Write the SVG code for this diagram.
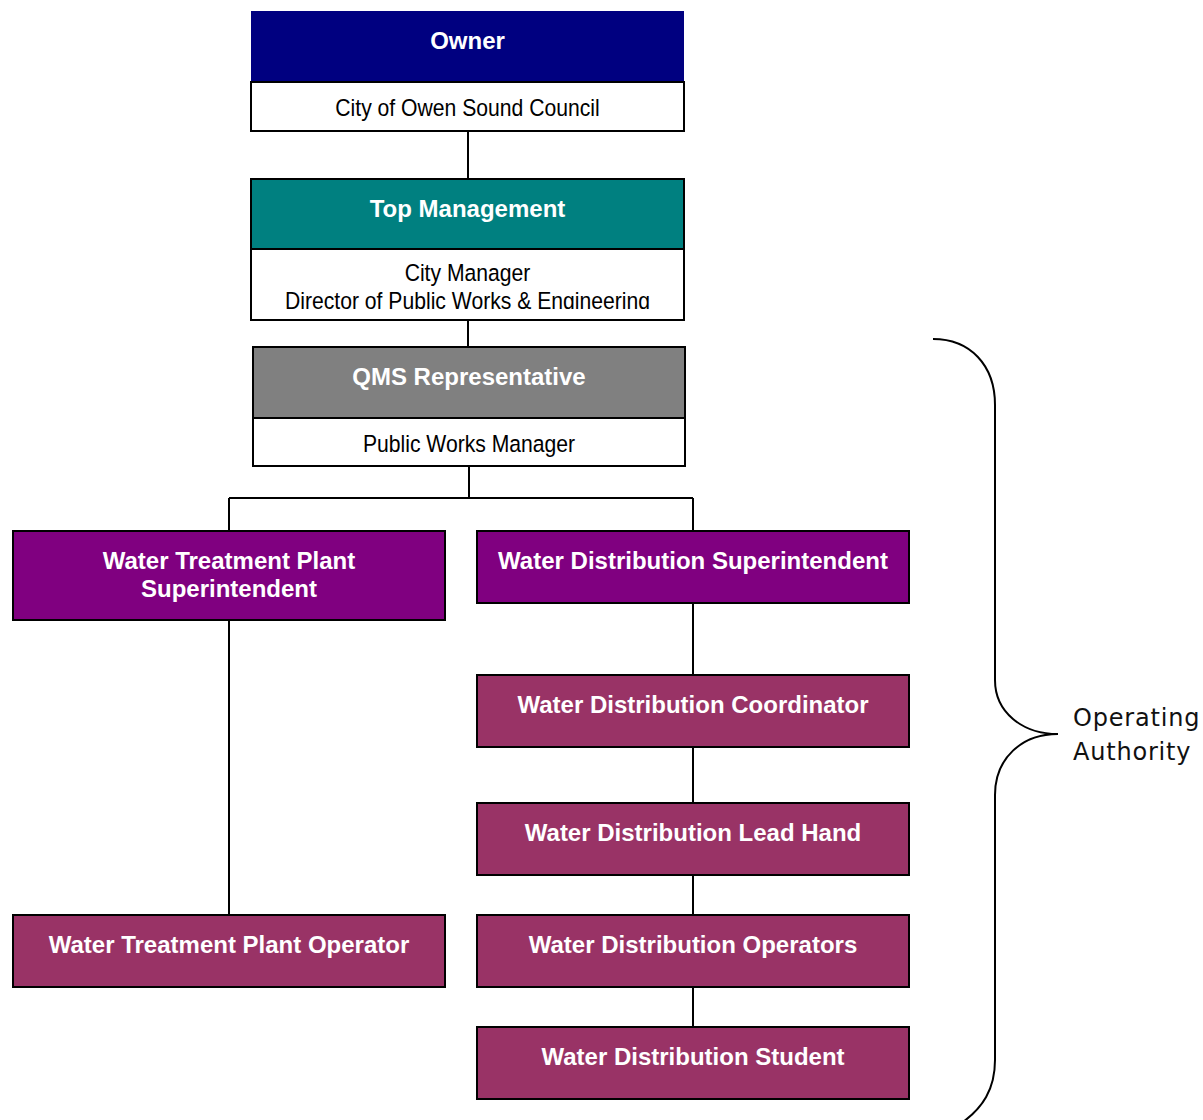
<svg xmlns="http://www.w3.org/2000/svg" width="1203" height="1120" viewBox="0 0 1203 1120">
<style>
.box{stroke:#000;stroke-width:2}
.hdr{font-family:"Liberation Sans",Arial,sans-serif;font-weight:bold;font-size:24px;fill:#fff;text-anchor:middle}
.sub{font-family:"Liberation Sans",Arial,sans-serif;font-size:23.5px;fill:#000;text-anchor:middle}
.conn{stroke:#000;stroke-width:2;fill:none}
.lbl{font-family:"DejaVu Sans",Verdana,sans-serif;font-size:24px;letter-spacing:0.8px;fill:#111}
</style>
<defs>
<clipPath id="clipTop"><rect x="251" y="249" width="433" height="60"/></clipPath>
</defs>
<rect width="1203" height="1120" fill="#fff"/>
<g id="connectors">
<path class="conn" d="M468 131V179"/>
<path class="conn" d="M468 320V347"/>
<path class="conn" d="M469 467V498M229 498H693M229 498V531M693 498V531"/>
<path class="conn" d="M229 620V915"/>
<path class="conn" d="M693 603V675M693 747V803M693 875V915M693 987V1027"/>
</g>
<g id="owner">
<rect x="251" y="11" width="433" height="71" fill="#000080"/>
<rect class="box" x="251" y="82" width="433" height="49" fill="#fff"/>
<text class="hdr" x="467.5" y="48.5">Owner</text>
<text class="sub" transform="translate(467.5 0) scale(0.9 1)" x="0" y="116">City of Owen Sound Council</text>
</g>
<g id="top-management">
<rect class="box" x="251" y="179" width="433" height="70" fill="#008080"/>
<rect class="box" x="251" y="249" width="433" height="71" fill="#fff"/>
<text class="hdr" x="467.5" y="217">Top Management</text>
<g clip-path="url(#clipTop)">
<text class="sub" transform="translate(467.5 0) scale(0.9 1)" x="0" y="281">City Manager</text>
<text class="sub" transform="translate(467.5 0) scale(0.9 1)" x="0" y="309">Director of Public Works &amp; Engineering</text>
</g>
</g>
<g id="qms">
<rect class="box" x="253" y="347" width="432" height="71" fill="#808080"/>
<rect class="box" x="253" y="418" width="432" height="48" fill="#fff"/>
<text class="hdr" x="469" y="385">QMS Representative</text>
<text class="sub" transform="translate(469 0) scale(0.9 1)" x="0" y="452">Public Works Manager</text>
</g>
<g id="wtp-superintendent">
<rect class="box" x="13" y="531" width="432" height="89" fill="#800080"/>
<text class="hdr" x="229" y="569">Water Treatment Plant</text>
<text class="hdr" x="229" y="597">Superintendent</text>
</g>
<g id="wd-superintendent">
<rect class="box" x="477" y="531" width="432" height="72" fill="#800080"/>
<text class="hdr" x="693" y="569">Water Distribution Superintendent</text>
</g>
<g id="wd-coordinator">
<rect class="box" x="477" y="675" width="432" height="72" fill="#993366"/>
<text class="hdr" x="693" y="713">Water Distribution Coordinator</text>
</g>
<g id="wd-lead-hand">
<rect class="box" x="477" y="803" width="432" height="72" fill="#993366"/>
<text class="hdr" x="693" y="841">Water Distribution Lead Hand</text>
</g>
<g id="wd-operators">
<rect class="box" x="477" y="915" width="432" height="72" fill="#993366"/>
<text class="hdr" x="693" y="953">Water Distribution Operators</text>
</g>
<g id="wd-student">
<rect class="box" x="477" y="1027" width="432" height="72" fill="#993366"/>
<text class="hdr" x="693" y="1065">Water Distribution Student</text>
</g>
<g id="wtp-operator">
<rect class="box" x="13" y="915" width="432" height="72" fill="#993366"/>
<text class="hdr" x="229" y="953">Water Treatment Plant Operator</text>
</g>
<g id="operating-authority">
<path class="conn" d="M933 339C970 339 995 365 995 405V680C995 712 1022 734 1058 734C1022 734 995 758 995 795V1060C995 1090 982 1108 963 1122"/>
<text class="lbl" x="1073" y="726">Operating</text>
<text class="lbl" x="1073" y="760">Authority</text>
</g>
</svg>
